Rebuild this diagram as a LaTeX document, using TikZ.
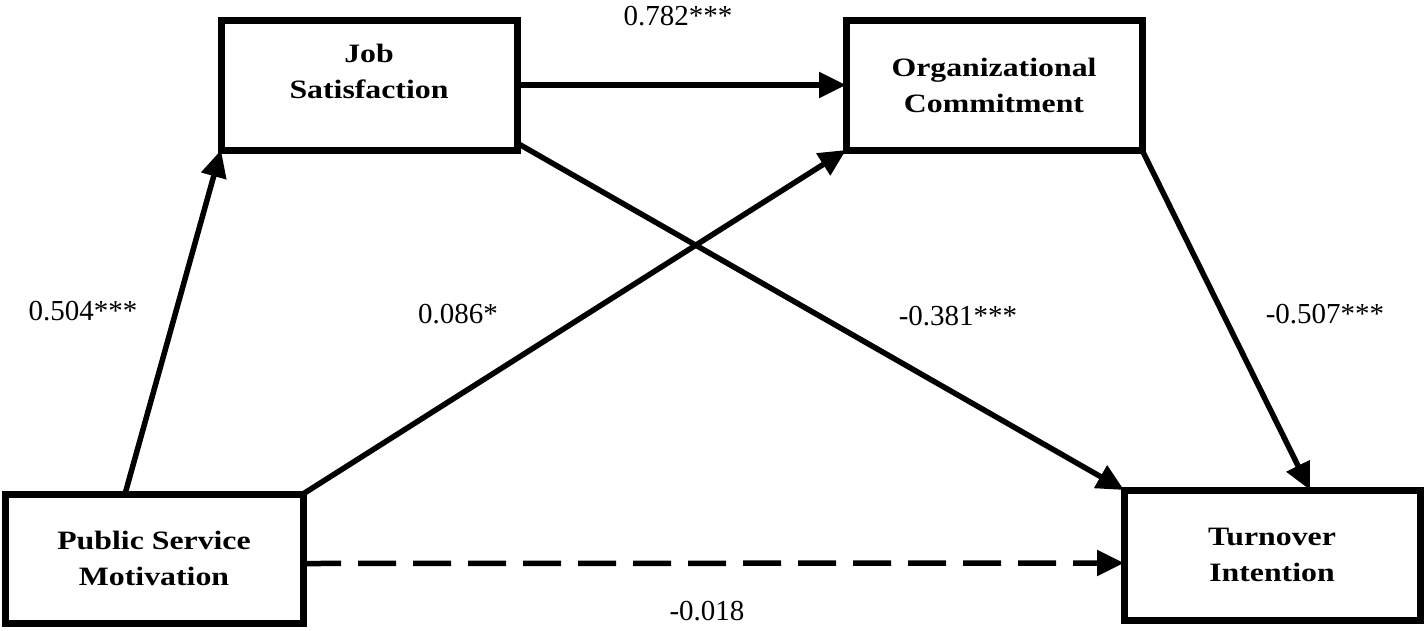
\documentclass[tikz,border=0pt]{standalone}
\usepackage{fontspec}
\setmainfont{Liberation Serif}
\newfontfamily\boxfont[FakeStretch=1.2]{Liberation Serif}
\usetikzlibrary{arrows.meta,calc}
\tikzset{
  box/.style={draw, line width=7pt, inner sep=0pt, outer sep=0pt},
  boxtext/.style={font=\boxfont\bfseries\fontsize{26.5}{36}\selectfont, align=center, inner sep=0pt},
  lab/.style={font=\fontsize{29}{34}\selectfont, anchor=base, inner sep=0pt},
  arr/.style={line width=5.5pt, -{Triangle[length=27pt,width=25pt]}},
}
\begin{document}
\begin{tikzpicture}[x=1pt,y=-1pt]
\useasboundingbox (0,0) rectangle (1427,630);
% boxes
\node[box, minimum width=296pt, minimum height=130pt] (js) at (369,85) {};
\node[boxtext] (jst) at (369,71) {Job\\Satisfaction};
\node[box, minimum width=296pt, minimum height=130pt, boxtext] (oc) at (994,85) {Organizational\\Commitment};
\node[box, minimum width=298pt, minimum height=129pt, boxtext] (psm) at (154,558.5) {Public Service\\Motivation};
\node[box, minimum width=296pt, minimum height=130pt, boxtext] (ti) at (1272,555) {Turnover\\Intention};
% connectors
\draw[arr] ($(psm.north west)+(120,0)$) -- (js.south west);
\draw[arr] (js.east) -- (oc.west);
\draw[arr] (psm.north east) -- (oc.south west);
\draw[arr] ($(js.south east)+(0,-7)$) -- (ti.north west);
\draw[arr] (oc.south east) -- ($(ti.north west)+(186,0)$);
\draw[arr, dash pattern=on 38pt off 17pt] ($(psm.east)+(0,5)$) -- ($(ti.west)+(0,8)$);
% labels
\node[lab] (l1) at (83,320) {0.504***};
\node[lab] (l2) at (458,323) {0.086*};
\node[lab] (l3) at (958,325) {-0.381***};
\node[lab] (l4) at (1325,323) {-0.507***};
\node[lab] (l5) at (678,25) {0.782***};
\node[lab] (l6) at (707,620) {-0.018};
\end{tikzpicture}
\end{document}
